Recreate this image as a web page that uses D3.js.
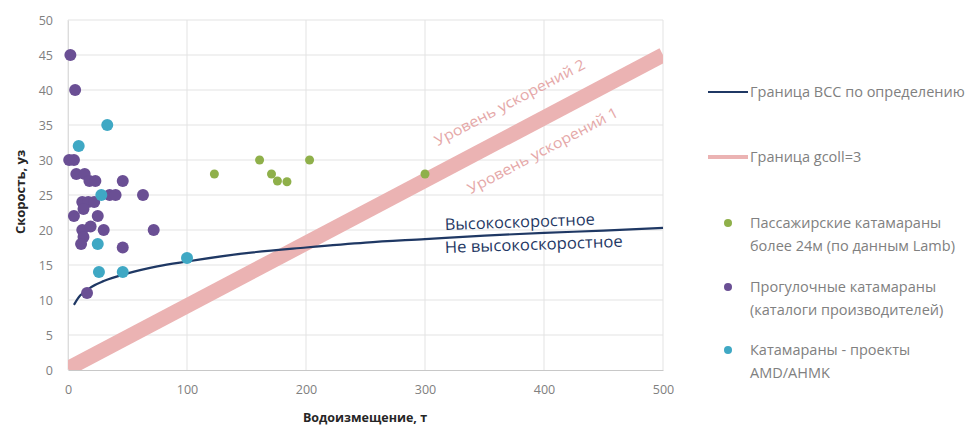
<!DOCTYPE html>
<html>
<head>
<meta charset="utf-8">
<script src="https://cdn.jsdelivr.net/npm/d3@7"></script>
<style>
  body { margin: 0; background: #fff; }
  svg { font-family: "Open Sans", sans-serif; }
</style>
</head>
<body>
<svg width="976" height="428"></svg>
<script>
// ticks
var xTicks = [0, 100, 200, 300, 400, 500];
var yTicks = [0, 5, 10, 15, 20, 25, 30, 35, 40, 45, 50];

// граница ВСС
var hscX = [5, 10, 15, 20, 30, 50, 75, 100, 150, 200, 250, 300, 350, 400, 450, 500];
var hscY = [9.3, 10.6, 11.3, 11.9, 12.7, 13.8, 14.8, 15.5, 16.7, 17.5, 18.2, 18.7, 19.2, 19.6, 19.9, 20.3];

// граница gcoll=3
var gcollX = [0, 500];
var gcollY = [0.2, 45];

// пассажирские (Lamb)
var lambX = [123, 161, 171, 176, 184, 203, 300];
var lambY = [28, 30, 28, 27, 26.9, 30, 28];

// прогулочные
var progX = [2, 6, 1, 5, 7, 14, 18, 23, 46, 35, 40, 63, 12, 17, 22, 13, 5, 25, 12, 19, 30, 72, 13, 11, 46, 16];
var progY = [45, 40, 30, 30, 28, 28, 27, 27, 27, 25, 25, 25, 24, 24, 24, 23, 22, 22, 20, 20.5, 20, 20, 19, 18, 17.5, 11];

// AMD/AHMK
var amdX = [33, 9, 28, 25, 26, 46, 100];
var amdY = [35, 32, 25, 18, 14, 14, 16];

var legendLabels = [
  ['Граница ВСС по определению'],
  ['Граница gcoll=3'],
  ['Пассажирские катамараны', 'более 24м (по данным Lamb)'],
  ['Прогулочные катамараны', '(каталоги производителей)'],
  ['Катамараны - проекты', 'AMD/AHMK']
];

var navy = '#1f3864', pink = '#ebb3b3', green = '#8fb04a', purple = '#6a4f94', teal = '#3fa8c4';

var svg = d3.select('svg');

var x = d3.scaleLinear().domain([0, 500]).range([68, 663]);
var y = d3.scaleLinear().domain([0, 50]).range([370, 20]);

// grid
svg.append('g').selectAll('line')
    .data(yTicks.filter(function(d){ return d > 0; }))
    .enter().append('line')
    .attr('x1', x(0)).attr('x2', x(500))
    .attr('y1', function(d){ return y(d); })
    .attr('y2', function(d){ return y(d); })
    .attr('stroke', '#e3e3e3');
svg.append('g').selectAll('line')
    .data(xTicks)
    .enter().append('line')
    .attr('y1', y(0)).attr('y2', y(50))
    .attr('x1', function(d){ return x(d); })
    .attr('x2', function(d){ return x(d); })
    .attr('stroke', '#e3e3e3');

// axes
var xAxis = svg.append('g')
    .attr('transform', 'translate(0,' + y(0) + ')')
    .call(d3.axisBottom(x).tickValues(xTicks).tickSize(0).tickPadding(15));
var yAxis = svg.append('g')
    .attr('transform', 'translate(' + x(0) + ',0)')
    .call(d3.axisLeft(y).tickValues(yTicks).tickSize(0).tickPadding(15));
xAxis.select('.domain').attr('stroke', '#c8c8c8');
yAxis.select('.domain').attr('stroke', '#dcdcdc');
svg.selectAll('.tick text')
    .attr('fill', '#808080')
    .style('font-size', '12.5px')
    .style('font-family', '"Open Sans", sans-serif');

// axis titles
svg.append('text')
    .attr('x', 365).attr('y', 422)
    .attr('text-anchor', 'middle')
    .attr('font-weight', 'bold')
    .attr('font-size', 12.5)
    .attr('fill', '#262626')
    .text('Водоизмещение, т');
svg.append('text')
    .attr('transform', 'translate(25,192) rotate(-90)')
    .attr('text-anchor', 'middle')
    .attr('font-weight', 'bold')
    .attr('font-size', 13)
    .attr('fill', '#262626')
    .text('Скорость, уз');

// plot area clip
svg.append('clipPath').attr('id', 'plot')
    .append('rect')
    .attr('x', x(0)).attr('y', y(50))
    .attr('width', x(500) - x(0)).attr('height', y(0) - y(50));

var line = d3.line()
    .x(function(d){ return x(d[0]); })
    .y(function(d){ return y(d[1]); });

svg.append('path')
    .datum(d3.zip(gcollX, gcollY))
    .attr('clip-path', 'url(#plot)')
    .attr('d', line)
    .attr('fill', 'none')
    .attr('stroke', pink)
    .attr('stroke-width', 15);

svg.append('path')
    .datum(d3.zip(hscX, hscY))
    .attr('d', line.curve(d3.curveMonotoneX))
    .attr('fill', 'none')
    .attr('stroke', navy)
    .attr('stroke-width', 2.2);

function dots(xs, ys, color, r) {
    svg.append('g').selectAll('circle')
        .data(d3.zip(xs, ys))
        .enter().append('circle')
        .attr('cx', function(d){ return x(d[0]); })
        .attr('cy', function(d){ return y(d[1]); })
        .attr('r', r)
        .attr('fill', color);
}
dots(progX, progY, purple, 6);
dots(amdX, amdY, teal, 6);
dots(lambX, lambY, green, 4.5);

// annotations
var ang = -Math.atan((y(0.2) - y(45)) / (x(500) - x(0))) * 180 / Math.PI;
svg.append('text')
    .attr('transform', 'translate(512,107) rotate(' + ang + ')')
    .attr('text-anchor', 'middle')
    .attr('font-size', 14.5)
    .attr('fill', '#e5a8a8')
    .attr('textLength', 168)
    .attr('lengthAdjust', 'spacingAndGlyphs')
    .text('Уровень ускорений 2');
svg.append('text')
    .attr('transform', 'translate(545,155) rotate(' + ang + ')')
    .attr('text-anchor', 'middle')
    .attr('font-size', 14.5)
    .attr('fill', '#e5a8a8')
    .attr('textLength', 168)
    .attr('lengthAdjust', 'spacingAndGlyphs')
    .text('Уровень ускорений 1');

svg.append('text')
    .attr('transform', 'translate(445,230) rotate(-2)')
    .attr('font-size', 16)
    .attr('fill', navy)
    .attr('textLength', 150)
    .attr('lengthAdjust', 'spacingAndGlyphs')
    .text('Высокоскоростное');
svg.append('text')
    .attr('transform', 'translate(445,253) rotate(-2)')
    .attr('font-size', 16)
    .attr('fill', navy)
    .attr('textLength', 178)
    .attr('lengthAdjust', 'spacingAndGlyphs')
    .text('Не высокоскоростное');

// legend
var legendY = [92, 157, 223, 287, 350];
var lg = svg.append('g');
lg.append('line').attr('x1', 708).attr('x2', 748).attr('y1', legendY[0]).attr('y2', legendY[0])
    .attr('stroke', navy).attr('stroke-width', 2);
lg.append('line').attr('x1', 708).attr('x2', 748).attr('y1', legendY[1]).attr('y2', legendY[1])
    .attr('stroke', pink).attr('stroke-width', 4);
[green, purple, teal].forEach(function(c, i){
    lg.append('circle').attr('cx', 728).attr('cy', legendY[i + 2]).attr('r', 4).attr('fill', c);
});
legendLabels.forEach(function(lines, i){
    var t = lg.append('text')
        .attr('x', 750)
        .attr('y', legendY[i] + 5)
        .attr('font-size', 14.5)
        .attr('fill', '#808080');
    lines.forEach(function(s, j){
        t.append('tspan').attr('x', 750).attr('dy', j ? 23 : 0).text(s);
    });
});
</script>
</body>
</html>
